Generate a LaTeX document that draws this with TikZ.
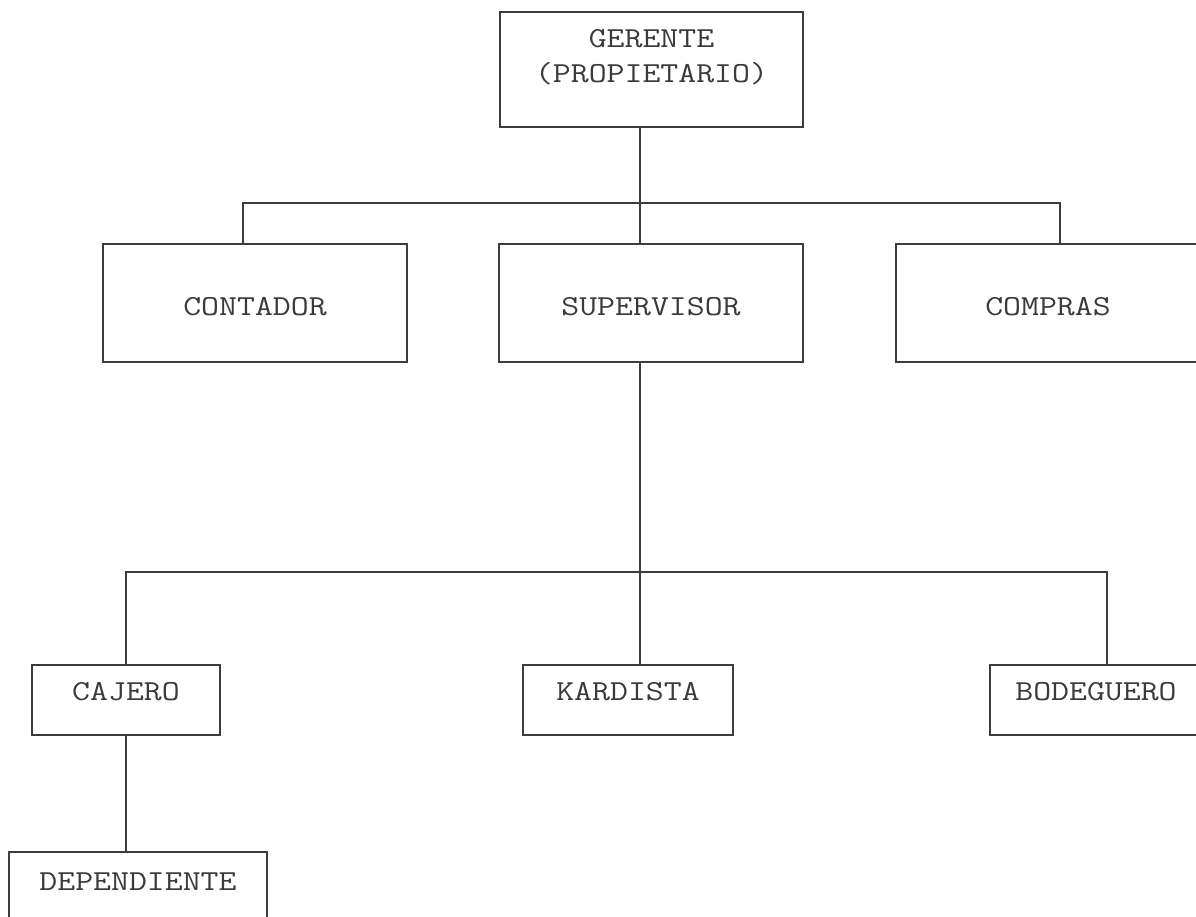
\documentclass[tikz,border=0pt]{standalone}
\usepackage{fontspec}
\usepackage{tikz}
\newfontfamily\courierfont[FakeStretch=1.2]{Latin Modern Mono}
\definecolor{LineGray}{HTML}{3C3C3C}
\definecolor{TextGray}{HTML}{3A3A3A}
\tikzset{
  caja/.style={rectangle,draw=LineGray,line width=2pt,inner sep=0pt,anchor=base,
               text=TextGray,font=\courierfont\fontsize{29}{35}\selectfont},
  alta/.style={caja,minimum width=304pt,text height=71pt,text depth=47pt},
  baja/.style={caja,text height=35pt,text depth=35pt},
  con/.style={draw=LineGray,line width=2pt}
}
\begin{document}
\begin{tikzpicture}[x=1pt,y=-1pt]
  \clip (0,0) rectangle (1196,917);

  \node[caja,minimum width=303pt,text height=36pt,text depth=79pt] (ger) at (651.5,48)
    {\begin{tabular}[t]{@{}c@{}}GERENTE\\(PROPIETARIO)\end{tabular}};

  \node[alta] (cont) at (255,315) {CONTADOR};
  \node[alta] (sup) at (651,315) {SUPERVISOR};
  \node[alta] (comp) at (1048,315) {COMPRAS};

  \node[baja,minimum width=188pt] (caj) at (126,700) {CAJERO};
  \node[baja,minimum width=210pt] (kar) at (628,700) {KARDISTA};
  \node[baja,minimum width=212pt] (bod) at (1096,700) {BODEGUERO};

  \node[caja,minimum width=258pt,text height=38pt,text depth=35pt] (dep) at (138,890) {DEPENDIENTE};

  % first level
  \coordinate (b1) at (243,203);
  \coordinate (b2) at (640,203);
  \coordinate (b3) at (1060,203);
  \draw[con] (ger.south -| b2) -- (b2);
  \draw[con] (b1 |- cont.north) -- (b1) -- (b3) -- (b3 |- comp.north);
  \draw[con] (b2) -- (b2 |- sup.north);

  % second level
  \coordinate (c1) at (126,572);
  \coordinate (c2) at (640,572);
  \coordinate (c3) at (1107,572);
  \draw[con] (sup.south -| c2) -- (c2);
  \draw[con] (c1 |- caj.north) -- (c1) -- (c3) -- (c3 |- bod.north);
  \draw[con] (c2) -- (c2 |- kar.north);
  \draw[con] (caj.south) -- (dep.north -| caj.south);
\end{tikzpicture}
\end{document}
